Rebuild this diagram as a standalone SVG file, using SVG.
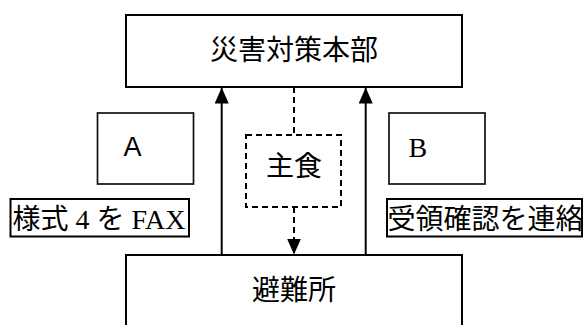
<svg xmlns="http://www.w3.org/2000/svg" width="583" height="325" viewBox="0 0 583 325">
<style>
  .box { fill: #fff; stroke: #000; stroke-width: 2; }
  .thin { fill: #fff; stroke: #111; stroke-width: 1.7; }
  .dash { fill: none; stroke: #000; stroke-width: 2; stroke-dasharray: 6 4; }
  .line { fill: none; stroke: #000; stroke-width: 2; }
  .jp { font-family: "Noto Sans CJK JP", sans-serif; font-size: 28px; fill: #000; }
  .mix { font-family: "Liberation Serif", "Noto Sans CJK JP", serif; font-size: 28px; fill: #000; }
  .sans { font-family: "Liberation Sans", sans-serif; font-size: 27px; fill: #000; }
</style>
<defs>
  <marker id="ah" markerWidth="16" markerHeight="14" refX="16" refY="7" orient="auto" markerUnits="userSpaceOnUse">
    <path d="M0,0 L16,7 L0,14 z" fill="#000"/>
  </marker>
</defs>
<rect width="583" height="325" fill="#fff"/>
<g id="hq">
  <rect class="box" x="126" y="15" width="336" height="72"/>
  <text class="jp" x="294" y="60" text-anchor="middle">災害対策本部</text>
</g>
<g id="shelter">
  <rect class="box" x="126" y="255" width="336" height="80"/>
  <text class="jp" x="294" y="300" text-anchor="middle">避難所</text>
</g>
<g id="nodeA">
  <rect class="thin" x="97.5" y="113" width="96" height="71"/>
  <text class="sans" x="123.5" y="156">A</text>
</g>
<g id="nodeB">
  <rect class="thin" x="389" y="113" width="96" height="71"/>
  <text class="mix" x="408.5" y="157">B</text>
</g>
<g id="staple">
  <rect class="dash" x="246" y="135" width="95" height="72"/>
  <text class="jp" x="294" y="176" text-anchor="middle">主食</text>
</g>
<g id="label-fax">
  <rect class="box" x="10.5" y="199" width="178.5" height="37.5"/>
  <text class="mix" x="12.5" y="228.5">様式 4 を FAX</text>
</g>
<g id="label-confirm">
  <rect class="box" x="387" y="199" width="195" height="37.5"/>
  <text class="jp" x="387.5" y="228.5">受領確認を連絡</text>
</g>
<g id="connectors">
  <line class="line" x1="221.7" y1="255" x2="221.7" y2="87.5" marker-end="url(#ah)"/>
  <line class="line" x1="365.7" y1="255" x2="365.7" y2="87.5" marker-end="url(#ah)"/>
  <line class="dash" x1="294" y1="87" x2="294" y2="135"/>
  <line class="dash" x1="294" y1="207" x2="294" y2="254.5" marker-end="url(#ah)"/>
</g>
</svg>
